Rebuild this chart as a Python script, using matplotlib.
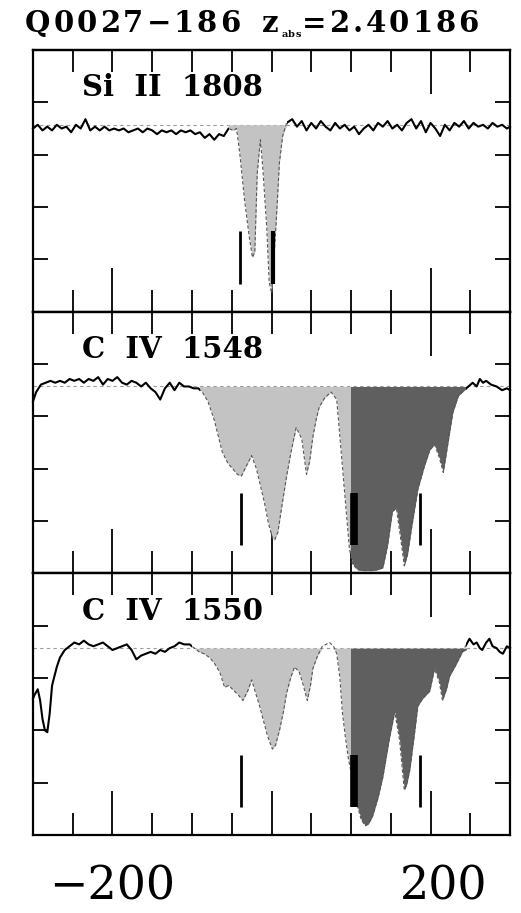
import numpy as np
import matplotlib
matplotlib.use("Agg")
import matplotlib.pyplot as plt
from matplotlib.patches import Rectangle
from matplotlib.transforms import ScaledTranslation

plt.rcParams['font.family'] = ['DejaVu Serif']
plt.rcParams['mathtext.fontset'] = 'dejavuserif'

# velocity (km/s) and normalised flux, Si II 1808
si2_v = [-300, -294, -288, -282, -276, -270, -264, -258, -252, -246, -240, -234, -228, -222,
         -216, -210, -204, -198, -192, -186, -180, -174, -168, -162, -156, -150, -144, -138,
         -132, -126, -120, -114, -108, -102, -96, -90, -84, -78, -72, -66, -60, -54, -48, -44,
         -40, -34, -28, -24, -21, -18, -14, -11, -6, -3, 0, 3, 6, 10, 14, 19, 26, 32, 38, 44,
         50, 56, 62, 68, 74, 80, 86, 92, 98, 104, 110, 116, 122, 128, 134, 140, 146, 152, 158,
         164, 170, 176, 182, 188, 194, 200, 206, 212, 218, 224, 230, 236, 242, 248, 254, 260,
         266, 272, 278, 284, 290, 296, 300]
si2_f = [0.98, 1.00, 0.97, 0.99, 0.97, 1.00, 0.98, 0.99, 0.96, 1.00, 0.98, 1.03, 0.97, 0.99,
         0.97, 0.99, 0.97, 0.98, 0.97, 0.98, 0.96, 0.97, 0.98, 0.96, 0.98, 0.97, 0.95, 0.97,
         0.96, 0.97, 0.95, 0.97, 0.96, 0.97, 0.95, 0.96, 0.93, 0.95, 0.92, 0.95, 0.94, 0.98,
         0.97, 0.98, 0.85, 0.60, 0.40, 0.29, 0.32, 0.74, 0.92, 0.77, 0.45, 0.16, 0.10, 0.28,
         0.49, 0.80, 0.94, 1.01, 1.03, 0.99, 1.02, 0.97, 1.01, 0.98, 1.02, 0.99, 0.97, 1.01,
         0.98, 1.00, 0.97, 0.99, 0.95, 0.98, 1.00, 0.97, 1.01, 0.99, 1.02, 0.98, 1.00, 0.97,
         1.01, 1.03, 0.98, 1.02, 0.96, 1.01, 0.98, 0.94, 1.00, 0.97, 1.01, 0.99, 1.02, 0.98,
         1.01, 0.99, 1.00, 0.98, 1.01, 0.99, 1.00, 0.98, 0.99]

# C IV 1548
c4a_v = [-300, -296, -290, -284, -278, -272, -266, -260, -254, -248, -242, -236, -230, -224,
         -218, -212, -206, -200, -194, -188, -182, -176, -170, -164, -158, -152, -146, -140,
         -134, -128, -122, -116, -110, -104, -98, -92, -87, -80, -72, -62, -55, -49, -43, -38,
         -31, -25, -19, -14, -9, -4, 1, 4, 8, 13, 19, 25, 31, 38, 44, 48, 52, 56, 60, 67, 75,
         82, 86, 90, 94, 98, 102, 108, 114, 120, 127, 134, 140, 146, 152, 157, 162, 167, 171,
         176, 184, 192, 199, 205, 211, 216, 222, 228, 235, 240, 245, 253, 258, 262, 266, 270,
         276, 283, 290, 296, 300]
c4a_f = [0.92, 0.97, 1.01, 1.02, 1.03, 1.02, 1.03, 1.02, 1.04, 1.03, 1.04, 1.02, 1.04, 1.03,
         1.05, 1.01, 1.04, 1.03, 1.05, 1.02, 1.01, 1.03, 1.02, 1.00, 1.02, 0.99, 0.97, 0.93,
         0.99, 1.02, 0.98, 1.02, 1.00, 1.00, 0.99, 0.99, 0.97, 0.92, 0.82, 0.65, 0.59, 0.56,
         0.53, 0.52, 0.58, 0.63, 0.56, 0.47, 0.38, 0.27, 0.19, 0.18, 0.22, 0.36, 0.52, 0.66,
         0.78, 0.72, 0.53, 0.60, 0.73, 0.82, 0.89, 0.94, 0.97, 0.93, 0.73, 0.53, 0.33, 0.13,
         0.05, 0.02, 0.015, 0.015, 0.015, 0.02, 0.03, 0.15, 0.33, 0.35, 0.20, 0.04, 0.10, 0.24,
         0.45, 0.57, 0.66, 0.69, 0.62, 0.54, 0.70, 0.86, 0.95, 0.97, 0.99, 1.02, 1.00, 1.04,
         1.02, 1.03, 1.01, 1.00, 0.98, 0.99, 0.98]

# C IV 1550
c4b_v = [-300, -298, -294, -291, -288, -285, -282, -279, -276, -270, -266, -260, -254, -248,
         -242, -236, -230, -224, -218, -212, -206, -200, -194, -188, -182, -176, -170, -164,
         -158, -152, -146, -140, -134, -128, -122, -116, -110, -103, -97, -91, -85, -78, -72,
         -65, -59, -54, -49, -42, -36, -30, -25, -20, -15, -10, -5, 1, 5, 10, 15, 19, 24, 29,
         35, 40, 45, 49, 52, 58, 64, 73, 78, 82, 86, 89, 93, 97, 102, 107, 113, 118, 122, 127,
         134, 140, 148, 155, 161, 167, 170, 174, 180, 184, 190, 199, 205, 211, 215, 220, 224,
         233, 240, 249, 254, 258, 262, 265, 270, 274, 278, 283, 287, 291, 296, 300]
c4b_f = [0.73, 0.75, 0.78, 0.72, 0.62, 0.56, 0.55, 0.65, 0.80, 0.90, 0.95, 0.99, 1.01, 1.03,
         1.02, 1.04, 1.02, 1.01, 1.02, 1.03, 1.01, 0.99, 1.00, 1.01, 1.02, 0.99, 0.94, 0.96,
         0.97, 0.98, 0.97, 0.99, 0.98, 1.00, 1.01, 1.03, 1.02, 1.02, 1.00, 0.98, 0.97, 0.95,
         0.92, 0.87, 0.79, 0.80, 0.78, 0.75, 0.72, 0.77, 0.83, 0.76, 0.69, 0.61, 0.53, 0.46,
         0.48, 0.56, 0.66, 0.76, 0.84, 0.90, 0.87, 0.80, 0.72, 0.80, 0.89, 0.96, 1.01, 1.03,
         1.01, 0.97, 0.84, 0.66, 0.52, 0.40, 0.30, 0.17, 0.08, 0.05, 0.06, 0.10, 0.20, 0.31,
         0.51, 0.66, 0.51, 0.24, 0.27, 0.35, 0.55, 0.69, 0.73, 0.77, 0.89, 0.82, 0.72, 0.78,
         0.85, 0.92, 0.98, 1.05, 1.02, 1.03, 1.00, 0.99, 1.03, 1.05, 1.01, 1.00, 0.98, 0.97,
         1.01, 1.00]

# shaded velocity windows (km/s) and component positions
si2_light = (-53, 19)
c4a_light = (-90, 100)
c4b_light = (-100, 100)
c4_dark = (100, 245)
si2_comps = [-40, 2]
c4_comps = [-39, 104, 187]

labels = ["Si  II  1808", "C  IV  1548", "C  IV  1550"]
title_parts = ["Q0027\u2212186  z", "abs", "=2.40186"]

LIGHT = '#c3c3c3'
DARK = '#5f5f5f'


def clip_box(ax, lo, hi):
    return Rectangle((lo, -1), hi - lo, 3, transform=ax.transData)


def draw_panel(ax, label, v, f, light, dark, comps, comp_lw):
    v = np.array(v)
    f = np.array(f)
    top = np.minimum(f, 1.0)
    lo = light[0]
    hi = light[1]
    for win, col in [(light, LIGHT), (dark, DARK)]:
        if win is None:
            continue
        poly = ax.fill_between(v, top, 1.0, color=col, lw=0, zorder=2)
        poly.set_clip_path(clip_box(ax, win[0], win[1]))
        hi = max(hi, win[1])

    ax.axhline(1.0, color='#9a9a9a', lw=0.8, ls=(0, (3, 3)), zorder=1)

    # solid spectrum outside the shaded windows, dashed edge inside
    left, = ax.plot(v, f, color='k', lw=1.5, zorder=3)
    left.set_clip_path(clip_box(ax, -400, lo))
    right, = ax.plot(v, f, color='k', lw=1.5, zorder=3)
    right.set_clip_path(clip_box(ax, hi, 400))
    inner, = ax.plot(v, f, color='#555555', lw=0.8, ls=(0, (3, 2)), zorder=3)
    inner.set_clip_path(clip_box(ax, lo, hi))

    ax.vlines(comps, 0.15, 0.43, colors='k', linewidths=comp_lw, zorder=4)

    ax.text(0.103, 0.855, label, transform=ax.transAxes, fontsize=21,
            fontweight='bold', va='center', ha='left')

    ax.set_xlim(-300, 300)
    ax.set_ylim(0, 1.4)
    ax.set_xticks([-200, 0, 200])
    ax.set_xticks([-250, -150, -100, -50, 50, 100, 150, 250], minor=True)
    ax.set_yticks(np.linspace(0, 1.4, 6))
    ax.tick_params(axis='both', which='both', direction='in', top=False,
                   right=True, labelleft=False, labelbottom=False, width=1.3)
    ax.tick_params(axis='x', which='major', length=32)
    ax.tick_params(axis='x', which='minor', length=16)
    ax.tick_params(axis='y', length=11)
    for s in ax.spines.values():
        s.set_linewidth(1.6)

    sec = ax.secondary_xaxis('top')
    sec.set_xticks([200])
    sec.set_xticks([-250, -200, -150, -100, -50, 0, 50, 100, 150, 250], minor=True)
    sec.tick_params(which='both', direction='in', labeltop=False, width=1.3)
    sec.tick_params(which='major', length=32)
    sec.tick_params(which='minor', length=16)
    sec.spines['top'].set_linewidth(1.6)


fig = plt.figure(figsize=(5.21, 9.13), dpi=100)
gs = fig.add_gridspec(3, 1, left=0.0633, right=0.979, top=0.9452, bottom=0.0854, hspace=0)
axes = [fig.add_subplot(gs[i]) for i in range(3)]

draw_panel(axes[0], labels[0], si2_v, si2_f, si2_light, None, si2_comps, [2.0, 3.0])
draw_panel(axes[1], labels[1], c4a_v, c4a_f, c4a_light, c4_dark, c4_comps, [2.0, 5.5, 2.0])
draw_panel(axes[2], labels[2], c4b_v, c4b_f, c4b_light, c4_dark, c4_comps, [2.0, 5.5, 2.0])

ax = axes[2]
ax.set_xticklabels(['\u2212200', '', '200'])
ax.tick_params(axis='x', which='major', labelbottom=True, labelsize=33, pad=21)
lab = ax.get_xticklabels()[2]
lab.set_transform(lab.get_transform() + ScaledTranslation(0.13, 0, fig.dpi_scale_trans))

# title set letter by letter with a little extra tracking; small subscript
renderer = fig.canvas.get_renderer()
W = fig.bbox.width
H = fig.bbox.height
x = 25.0
base = 1 - 32.0 / H
for part, size, drop in [(title_parts[0], 21, 0.0), (title_parts[1], 7, 5.0),
                         (title_parts[2], 21, 0.0)]:
    for ch in part:
        t = fig.text(x / W, base - drop / H, ch, fontsize=size, fontweight='bold',
                     va='baseline')
        if ch == ' ':
            x += 9.0
        else:
            x = t.get_window_extent(renderer).x1 + (3.0 if size > 10 else 0.5)

fig.savefig('out.png', dpi=100)
